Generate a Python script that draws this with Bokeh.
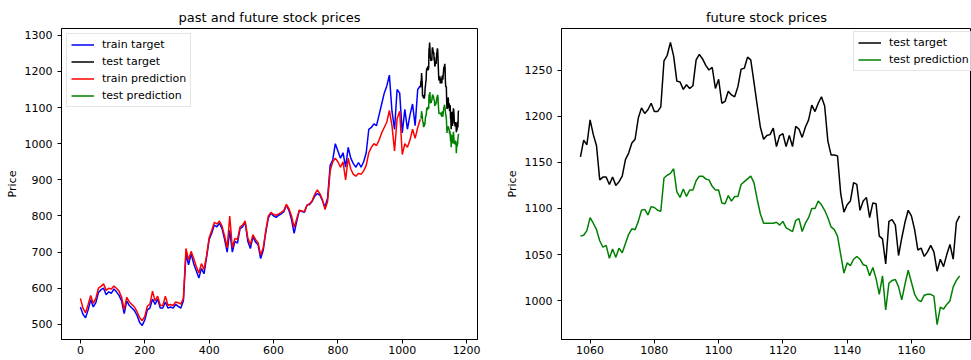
from bokeh.plotting import figure
from bokeh.layouts import row
from bokeh.models import Range1d, FixedTicker, Legend, LegendItem
from bokeh.embed import file_html
from bokeh.resources import INLINE

FONT = "DejaVu Sans"

# ---- training period (day index sampled every 8 days) ----
train_days = list(range(0, 1057, 8))
train_target = [
    548, 528, 518, 540, 568, 548, 560, 588, 596, 600,
    582, 590, 586, 598, 590, 580, 565, 530, 565, 552,
    545, 538, 525, 505, 497, 512, 540, 545, 570, 555,
    570, 545, 545, 562, 545, 548, 545, 555, 550, 545,
    565, 695, 665, 695, 668, 648, 628, 655, 640, 685,
    735, 752, 775, 770, 780, 765, 735, 700, 760, 700,
    730, 725, 765, 770, 782, 730, 710, 742, 728, 720,
    682, 705, 755, 795, 808, 800, 796, 802, 806, 812,
    830, 815, 790, 752, 785, 815, 812, 810, 830, 832,
    840, 855, 862, 858, 842, 825, 850, 940, 955, 1000,
    980, 960, 975, 935, 990, 960, 945, 935, 948, 935,
    950, 975, 1040, 1045, 1055, 1050, 1080, 1110, 1140, 1160,
    1190, 1090, 1040, 1150, 1140, 1030, 1095, 1040, 1080, 1110,
    1050, 1150, 1160,
]
train_prediction = [
    572, 545, 532, 555, 580, 558, 572, 600, 605, 612,
    594, 600, 598, 606, 600, 592, 575, 540, 575, 562,
    555, 548, 535, 518, 510, 522, 550, 556, 592, 565,
    578, 553, 552, 578, 553, 555, 552, 562, 560, 556,
    572, 710, 678, 702, 682, 660, 642, 668, 652, 690,
    740, 760, 782, 778, 786, 772, 745, 712, 800, 712,
    738, 735, 770, 775, 786, 740, 720, 748, 735, 726,
    692, 712, 760, 800, 810, 804, 802, 806, 810, 815,
    832, 820, 800, 768, 792, 816, 814, 812, 830, 834,
    842, 860, 872, 862, 845, 818, 840, 925, 950, 960,
    950, 935, 950, 900, 960, 930, 915, 910, 918, 915,
    925, 940, 975, 990, 1000, 995, 1010, 1030, 1045, 1060,
    1092, 1050, 980, 1070, 1090, 970, 1000, 990, 1010, 1040,
    1015, 1045, 1068,
]

# ---- test period (daily) ----
test_days = list(range(1057, 1176))
test_target = [
    1156, 1174, 1169, 1196, 1180, 1168, 1131, 1134, 1134, 1126,
    1134, 1125, 1129, 1135, 1153, 1160, 1171, 1175, 1198, 1209,
    1203, 1207, 1214, 1205, 1205, 1210, 1260, 1266, 1280, 1265,
    1238, 1237, 1229, 1234, 1230, 1233, 1261, 1267, 1262, 1255,
    1250, 1253, 1230, 1240, 1214, 1216, 1227, 1223, 1221, 1232,
    1251, 1252, 1264, 1261, 1237, 1212, 1188, 1175, 1179, 1180,
    1187, 1167, 1179, 1181, 1167, 1179, 1167, 1189, 1186, 1177,
    1188, 1196, 1212, 1205, 1214, 1221, 1211, 1173, 1158, 1158,
    1157, 1116, 1096, 1104, 1108, 1128, 1126, 1098, 1108, 1112,
    1090, 1106, 1105, 1070, 1067, 1040, 1086, 1088, 1082, 1049,
    1068, 1085, 1098, 1092, 1077, 1055, 1057, 1048, 1053, 1060,
    1053, 1032, 1045, 1037, 1050, 1061, 1045, 1085, 1092,
]
test_prediction = [
    1070, 1071, 1076, 1090, 1084, 1077, 1065, 1058, 1060, 1046,
    1056, 1047, 1057, 1052, 1062, 1072, 1078, 1077, 1086, 1098,
    1099, 1093, 1102, 1101, 1098, 1097, 1133, 1136, 1138, 1143,
    1118, 1112, 1121, 1113, 1120, 1120, 1130, 1135, 1135, 1132,
    1131, 1124, 1120, 1120, 1106, 1105, 1114, 1108, 1113, 1113,
    1126, 1129, 1132, 1135, 1128, 1110, 1094, 1084, 1084, 1084,
    1084, 1085, 1082, 1086, 1079, 1077, 1075, 1087, 1089, 1075,
    1084, 1090, 1100, 1100, 1108, 1104, 1098, 1090, 1080, 1077,
    1070, 1050, 1030, 1041, 1038, 1045, 1048, 1045, 1039, 1038,
    1027, 1036, 1024, 1007, 1027, 990, 1019, 1022, 1023, 1015,
    1001, 1018, 1033, 1020, 1007, 1001, 999, 1006, 1007, 1007,
    1005, 974, 993, 991, 996, 1000, 1015, 1022, 1027,
]

left_xticks = [0, 200, 400, 600, 800, 1000, 1200]
left_yticks = [500, 600, 700, 800, 900, 1000, 1100, 1200, 1300]
right_xticks = [1060, 1080, 1100, 1120, 1140, 1160]
right_yticks = [1000, 1050, 1100, 1150, 1200, 1250]


def style(p, xticks, yticks):
    p.title.text_font = FONT
    p.title.text_font_size = "13px"
    p.title.text_font_style = "normal"
    p.title.text_color = "black"
    p.title.align = "center"
    p.title.standoff = 8
    p.xgrid.visible = False
    p.ygrid.visible = False
    p.outline_line_color = "black"
    p.outline_line_alpha = 1.0
    p.outline_line_width = 1
    p.background_fill_color = "white"
    p.border_fill_color = "white"
    p.xaxis.ticker = FixedTicker(ticks=xticks)
    p.yaxis.ticker = FixedTicker(ticks=yticks)
    for ax in (p.xaxis[0], p.yaxis[0]):
        ax.major_label_text_font = FONT
        ax.major_label_text_font_size = "11px"
        ax.major_label_text_color = "black"
        ax.axis_line_color = "black"
        ax.major_tick_line_color = "black"
        ax.major_tick_in = 0
        ax.major_tick_out = 4
        ax.minor_tick_in = 0
        ax.minor_tick_out = 0
        ax.axis_label_text_font = FONT
        ax.axis_label_text_font_size = "11px"
        ax.axis_label_text_font_style = "normal"
        ax.axis_label_text_color = "black"
    p.xaxis[0].major_label_standoff = 2
    p.yaxis[0].major_label_standoff = 5
    p.yaxis[0].axis_label = "Price"
    p.yaxis[0].axis_label_standoff = 3


def make_legend(items, loc, margin=0):
    lg = Legend(items=items, location=loc)
    lg.label_text_font = FONT
    lg.label_text_font_size = "11px"
    lg.label_text_color = "black"
    lg.glyph_width = 23
    lg.glyph_height = 13
    lg.label_height = 13
    lg.spacing = 4
    lg.padding = 4
    lg.margin = margin
    lg.label_standoff = 8
    lg.border_line_color = "#cccccc"
    lg.border_line_width = 1
    lg.background_fill_color = "white"
    lg.background_fill_alpha = 0.8
    return lg


# left: whole history
p1 = figure(width=490, height=360, title="past and future stock prices",
            x_range=Range1d(-58.75, 1233.75), y_range=Range1d(458, 1319),
            output_backend="svg", toolbar_location=None,
            min_border_left=61, min_border_right=13,
            min_border_top=28, min_border_bottom=21)
style(p1, left_xticks, left_yticks)
r_tt = p1.line(train_days, train_target, line_color="blue", line_width=1.5)
r_st = p1.line(test_days, test_target, line_color="black", line_width=1.5)
r_tp = p1.line(train_days, train_prediction, line_color="red", line_width=1.5)
r_sp = p1.line(test_days, test_prediction, line_color="green", line_width=1.5)
p1.add_layout(make_legend([
    LegendItem(label="train target", renderers=[r_tt]),
    LegendItem(label="test target", renderers=[r_st]),
    LegendItem(label="train prediction", renderers=[r_tp]),
    LegendItem(label="test prediction", renderers=[r_sp]),
], "top_left", margin=5))

# right: test period only; legend box anchored by its lower-left corner
p2 = figure(width=481, height=360, title="future stock prices",
            x_range=Range1d(1051.1, 1178.7), y_range=Range1d(958, 1295),
            output_backend="svg", toolbar_location=None,
            min_border_left=71, min_border_right=0,
            min_border_top=28, min_border_bottom=21)
style(p2, right_xticks, right_yticks)
q_st = p2.line(test_days, test_target, line_color="black", line_width=1.5)
q_sp = p2.line(test_days, test_prediction, line_color="green", line_width=1.5)
p2.add_layout(make_legend([
    LegendItem(label="test target", renderers=[q_st]),
    LegendItem(label="test prediction", renderers=[q_sp]),
], (292, 268)))

layout = row(p1, p2)
open("out.html", "w").write(file_html(layout, INLINE))
